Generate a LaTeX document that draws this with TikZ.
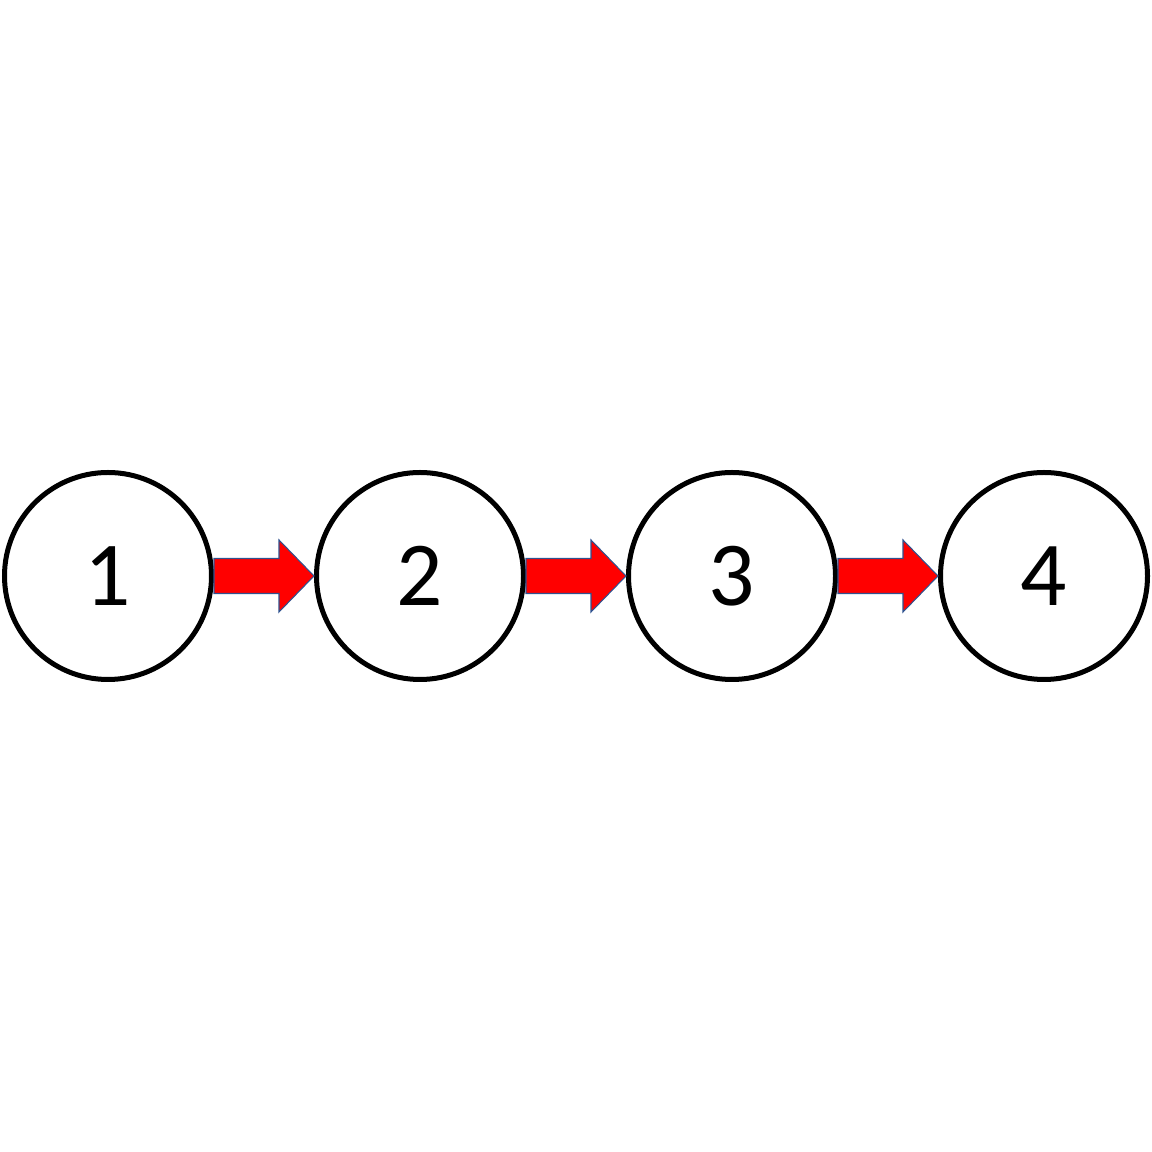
\documentclass[tikz,border=0pt]{standalone}
\usepackage{fontspec}
\setmainfont{Carlito}
\usetikzlibrary{positioning,calc}
\definecolor{arrowline}{HTML}{2F528F}

\begin{document}
\begin{tikzpicture}[state/.style={circle,draw,line width=0.1cm,minimum size=4.14cm,inner sep=0pt,font=\fontsize{52}{60}\selectfont},
	blockarrow/.style={fill=red,draw=arrowline,line width=0.6pt}, node distance=2cm]
			\useasboundingbox (0,0) rectangle (23.04,23.04);
			\node[state] (s1) at (2.16,11.52) {1};
			\node[state, right=of s1] (s2) {2};
			\node[state, right=of s2] (s3) {3};
			\node[state, right=of s3] (s4) {4};
			\foreach \a/\b in {s1/s2,s2/s3,s3/s4}
				\path let \p1=(\a.east), \p2=(\b.west) in [blockarrow] (\x1,\y1+0.35cm) -- (\x2-0.7cm,\y1+0.35cm) -- (\x2-0.7cm,\y1+0.72cm) -- (\x2,\y1) -- (\x2-0.7cm,\y1-0.72cm) -- (\x2-0.7cm,\y1-0.35cm) -- (\x1,\y1-0.35cm) -- cycle;
			\end{tikzpicture}
\end{document}
